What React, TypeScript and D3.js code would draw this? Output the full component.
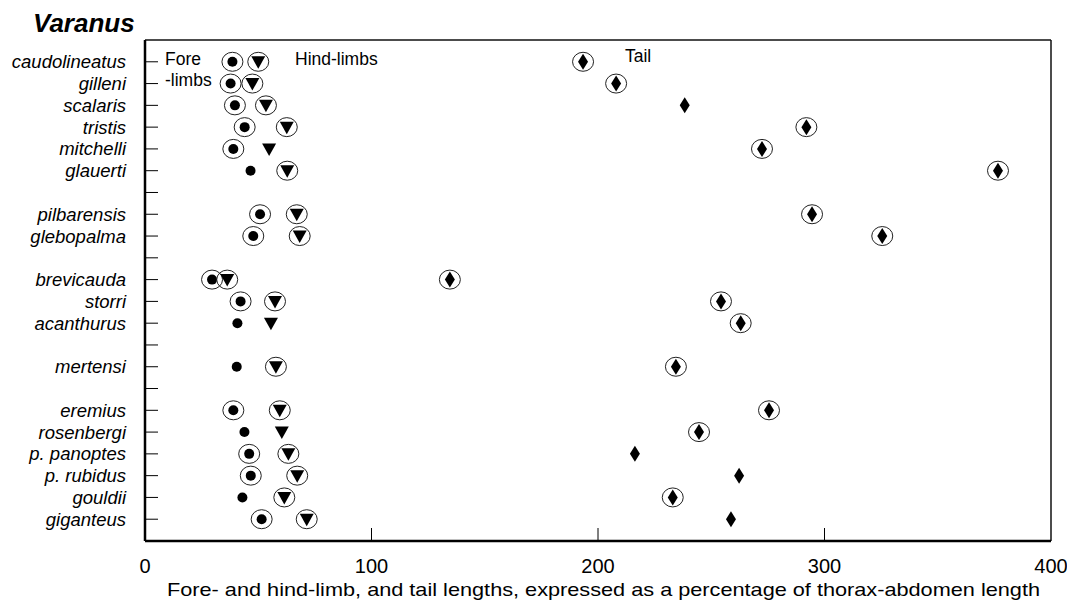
import React, { useEffect, useRef } from "react";
import * as d3 from "d3";

// row order down the y axis, "" = empty tick between groups
const rowOrder = [
  "caudolineatus", "gilleni", "scalaris", "tristis", "mitchelli", "glauerti", "",
  "pilbarensis", "glebopalma", "",
  "brevicauda", "storri", "acanthurus", "",
  "mertensi", "",
  "eremius", "rosenbergi", "p. panoptes", "p. rubidus", "gouldii", "giganteus",
];

const species = [
  "caudolineatus", "gilleni", "scalaris", "tristis", "mitchelli", "glauerti",
  "pilbarensis", "glebopalma", "brevicauda", "storri", "acanthurus", "mertensi",
  "eremius", "rosenbergi", "p. panoptes", "p. rubidus", "gouldii", "giganteus",
];

// % of thorax-abdomen length
const foreLimb = [38.6, 37.8, 39.7, 44.0, 39.0, 46.6, 50.8, 47.8, 29.6, 42.2, 40.8, 40.5, 39.0, 43.9, 46.0, 46.7, 43.0, 51.5];
const hindLimb = [50.0, 47.4, 53.4, 62.6, 54.8, 62.8, 67.0, 68.3, 36.3, 57.4, 55.6, 57.8, 59.5, 60.4, 63.3, 67.2, 61.5, 71.4];
const tail = [193.4, 208.0, 238.3, 292.0, 272.4, 376.6, 294.5, 325.5, 134.6, 254.3, 263.0, 234.4, 275.5, 244.6, 216.3, 262.3, 233.0, 258.7];

// circled = significant (ring drawn round the marker)
const foreRing = [1, 1, 1, 1, 1, 0, 1, 1, 1, 1, 0, 0, 1, 0, 1, 1, 0, 1];
const hindRing = [1, 1, 1, 1, 0, 1, 1, 1, 1, 1, 0, 1, 1, 0, 1, 1, 1, 1];
const tailRing = [1, 1, 0, 1, 1, 1, 1, 1, 1, 1, 1, 1, 1, 1, 0, 0, 1, 0];

const xTicks = [0, 100, 200, 300, 400];

const FONT = "'Liberation Sans', Arial, Helvetica, sans-serif";

export default function App() {
  const ref = useRef<SVGSVGElement>(null);

  useEffect(() => {
    const svg = d3.select(ref.current);
    svg.selectAll("*").remove();

    const width = 1067;
    const height = 604;
    const left = 145, right = 1051, top = 40, bottom = 541;

    const x = d3.scaleLinear().domain([0, 400]).range([left, right]);
    const y = d3.scaleLinear().domain([0, rowOrder.length + 1]).range([top, bottom]);
    const rowY = (name: string) => y(rowOrder.indexOf(name) + 1);

    svg.attr("width", width).attr("height", height);

    // title
    svg.append("text")
      .attr("x", 33)
      .attr("y", 32)
      .attr("font-family", FONT)
      .attr("font-size", 26)
      .attr("font-weight", "bold")
      .attr("font-style", "italic")
      .text("Varanus");

    // frame
    svg.append("line")
      .attr("x1", left).attr("x2", right).attr("y1", top).attr("y2", top)
      .attr("stroke", "#111").attr("stroke-width", 1.5);
    svg.append("line")
      .attr("x1", right).attr("x2", right).attr("y1", top).attr("y2", bottom)
      .attr("stroke", "#111").attr("stroke-width", 1.5);
    svg.append("line")
      .attr("x1", left).attr("x2", left).attr("y1", top).attr("y2", bottom)
      .attr("stroke", "#000").attr("stroke-width", 2.5);
    svg.append("line")
      .attr("x1", left).attr("x2", right).attr("y1", bottom).attr("y2", bottom)
      .attr("stroke", "#000").attr("stroke-width", 2.5);

    // y ticks (inside) and species labels
    rowOrder.forEach((name, i) => {
      const yy = y(i + 1);
      svg.append("line")
        .attr("x1", left)
        .attr("x2", left + 13)
        .attr("y1", yy)
        .attr("y2", yy)
        .attr("stroke", "#000")
        .attr("stroke-width", 1);
      if (name) {
        svg.append("text")
          .attr("x", 126)
          .attr("y", yy)
          .attr("dy", "0.35em")
          .attr("text-anchor", "end")
          .attr("font-family", FONT)
          .attr("font-size", 18.5)
          .attr("font-style", "italic")
          .text(name);
      }
    });

    // x ticks (inside) and labels
    xTicks.forEach((t) => {
      if (t > 0 && t < 400) {
        svg.append("line")
          .attr("x1", x(t))
          .attr("x2", x(t))
          .attr("y1", bottom)
          .attr("y2", bottom - 13)
          .attr("stroke", "#000")
          .attr("stroke-width", 1);
      }
      svg.append("text")
        .attr("x", x(t))
        .attr("y", 573)
        .attr("text-anchor", "middle")
        .attr("font-family", FONT)
        .attr("font-size", 20)
        .text(t);
    });

    svg.append("text")
      .attr("x", 167)
      .attr("y", 596)
      .attr("font-family", FONT)
      .attr("font-size", 18.5)
      .attr("textLength", 873)
      .attr("lengthAdjust", "spacingAndGlyphs")
      .text("Fore- and hind-limb, and tail lengths, expressed as a percentage of thorax-abdomen length");

    // series labels inside the plot
    const legend = [
      { t: "Fore", x: 165, y: 65 },
      { t: "-limbs", x: 165, y: 86 },
      { t: "Hind-limbs", x: 295, y: 65 },
      { t: "Tail", x: 625, y: 62 },
    ];
    legend.forEach((l) => {
      svg.append("text")
        .attr("x", l.x)
        .attr("y", l.y)
        .attr("font-family", FONT)
        .attr("font-size", 17.5)
        .text(l.t);
    });

    const rows = species.map((s, i) => ({
      name: s,
      fore: foreLimb[i],
      hind: hindLimb[i],
      tail: tail[i],
      foreRing: foreRing[i],
      hindRing: hindRing[i],
      tailRing: tailRing[i],
    }));

    const marks = svg.append("g");

    const drawRing = (cx: number, cy: number) => {
      marks.append("ellipse")
        .attr("cx", cx)
        .attr("cy", cy)
        .attr("rx", 10.5)
        .attr("ry", 9.5)
        .attr("fill", "none")
        .attr("stroke", "#222")
        .attr("stroke-width", 1);
    };

    rows.forEach((d) => {
      const cy = rowY(d.name);

      // fore-limb: dot
      const fx = x(d.fore);
      marks.append("circle")
        .attr("cx", fx)
        .attr("cy", cy)
        .attr("r", 5)
        .attr("fill", "#000");
      if (d.foreRing) drawRing(fx, cy);

      // hind-limb: down triangle
      const hx = x(d.hind);
      marks.append("path")
        .attr("d", "M-7,-5.5L7,-5.5L0,7Z")
        .attr("transform", `translate(${hx},${cy})`)
        .attr("fill", "#000");
      if (d.hindRing) drawRing(hx, cy);

      // tail: diamond
      const tx = x(d.tail);
      marks.append("path")
        .attr("d", "M0,-8L5,0L0,8L-5,0Z")
        .attr("transform", `translate(${tx},${cy})`)
        .attr("fill", "#000");
      if (d.tailRing) drawRing(tx, cy);
    });
  }, []);

  return (
    <svg ref={ref} style={{ position: "absolute", left: 0, top: 0, background: "#fff" }} />
  );
}
